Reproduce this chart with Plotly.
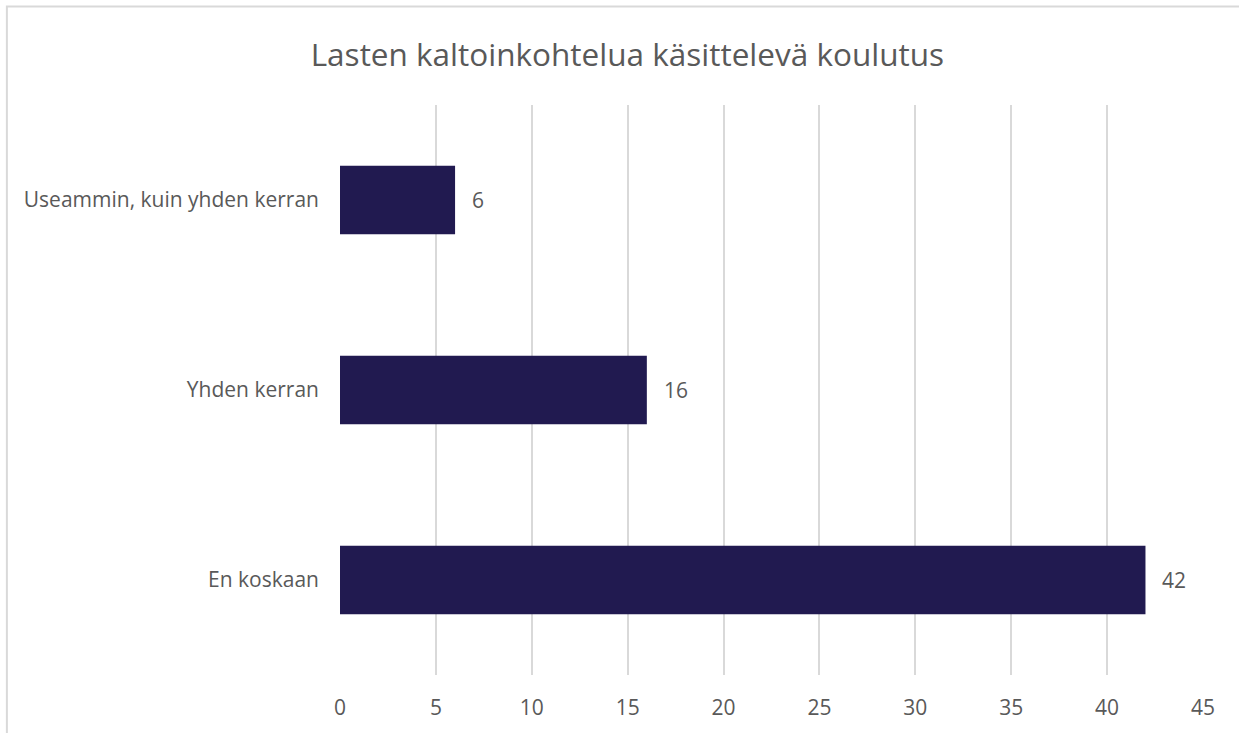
import plotly.graph_objects as go

# Data
categories = ["En koskaan", "Yhden kerran", "Useammin, kuin yhden kerran"]
values = [42, 16, 6]
tick_vals = [0, 5, 10, 15, 20, 25, 30, 35, 40, 45]

TITLE = "Lasten kaltoinkohtelua käsittelevä koulutus"
BAR_COLOR = "#211A50"
TEXT_COLOR = "#595959"
GRID_COLOR = "#D9D9D9"
FONT = "Open Sans"

fig = go.Figure()

fig.add_trace(
    go.Bar(
        x=values,
        y=categories,
        orientation="h",
        marker=dict(color=BAR_COLOR, line=dict(width=0)),
        width=0.36,
        hoverinfo="x+y",
    )
)

# Arvot palkkien perään
for cat, val in zip(categories, values):
    fig.add_annotation(
        x=val, y=cat, text=str(val), showarrow=False,
        xanchor="left", xshift=15,
        font=dict(family=FONT, size=21, color=TEXT_COLOR),
    )

# Kehys
fig.add_shape(
    type="rect", xref="paper", yref="paper",
    x0=-0.386, x1=1.06, y0=-0.12, y1=1.173,
    line=dict(color="#D9D9D9", width=2), layer="below",
)

fig.update_xaxes(
    range=[0, 45],
    tickvals=tick_vals,
    showgrid=True,
    gridcolor=GRID_COLOR,
    gridwidth=1.5,
    zeroline=False,
    showline=False,
    ticks="",
    tickfont=dict(family=FONT, size=21, color=TEXT_COLOR),
    ticklabelstandoff=18,
)
fig.update_yaxes(
    range=[-0.5, 2.5],
    showgrid=False,
    zeroline=False,
    showline=False,
    ticks="",
    tickfont=dict(family=FONT, size=21, color=TEXT_COLOR),
    ticklabelstandoff=20,
)

fig.update_layout(
    width=1239,
    height=733,
    title=dict(
        text=TITLE,
        x=0.333, xref="paper", xanchor="center",
        y=0.925, yanchor="middle",
        font=dict(family=FONT, size=31.5, color=TEXT_COLOR),
    ),
    plot_bgcolor="white",
    paper_bgcolor="white",
    showlegend=False,
    bargap=0.64,
    margin=dict(l=340, r=36, t=105, b=58),
)

fig.write_html(
    "out.html",
    config={"displayModeBar": False},
    post_script="document.body.style.margin='0';",
)
